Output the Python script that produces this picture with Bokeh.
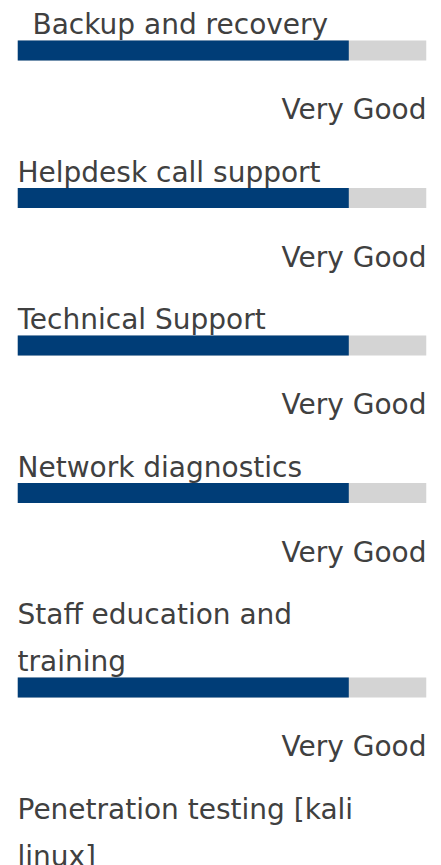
from bokeh.plotting import figure
from bokeh.models import Range1d, ColumnDataSource
from bokeh.core.properties import value
from bokeh.embed import file_html
from bokeh.resources import INLINE

# ---- data ----
skills = [
    " Backup and recovery",
    "Helpdesk call support",
    "Technical Support",
    "Network diagnostics",
    "Staff education and\ntraining",
    "Penetration testing [kali\nlinux]",
]
levels = [81, 81, 81, 81, 81, 81]
ratings = ["Very Good", "Very Good", "Very Good", "Very Good", "Very Good", "Very Good"]
max_level = 100

# ---- layout (pixel rows, y measured from top) ----
W, H = 441, 865
first_baseline = 32
line_gap = 47
bar_gap = 8
bar_h = 20
rating_gap = 77
row_gap = 62.5
indent_px = 15          # width used for a leading space in a label
base_shift = -8         # baseline correction for the text glyph

lab_x, lab_y, lab_t, lab_off = [], [], [], []
bar_y, bar_v = [], []
rat_y, rat_t = [], []
y = first_baseline
for s, lv, rt in zip(skills, levels, ratings):
    lines = s.split("\n")
    for k, ln in enumerate(lines):
        lead = len(ln) - len(ln.lstrip(" "))
        lab_x.append(0)
        lab_y.append(y + k * line_gap)
        lab_t.append(ln)
        lab_off.append(lead * indent_px)
    last = y + (len(lines) - 1) * line_gap
    top = last + bar_gap
    bar_y.append(top + bar_h / 2)
    bar_v.append(lv)
    rat_y.append(top + rating_gap)
    rat_t.append(rt)
    y = top + rating_gap + row_gap

p = figure(width=W, height=H, output_backend="svg", toolbar_location=None,
           x_range=Range1d(0, max_level), y_range=Range1d(H, 0),
           x_axis_location=None, y_axis_location=None,
           min_border_left=17, min_border_right=15,
           min_border_top=0, min_border_bottom=0)
p.grid.visible = False
p.outline_line_color = None
p.background_fill_color = "white"
p.border_fill_color = "white"

bars = ColumnDataSource(dict(y=bar_y, v=bar_v, full=[max_level] * len(bar_v)))
p.hbar(y="y", left=0, right="full", height=bar_h, source=bars,
       fill_color="#d4d4d4", line_color=None)
p.hbar(y="y", left=0, right="v", height=bar_h, source=bars,
       fill_color="#003d77", line_color=None)

font = value("DejaVu Sans")
labs = ColumnDataSource(dict(x=lab_x, y=lab_y, t=lab_t, off=lab_off))
p.text(x="x", y="y", text="t", x_offset="off", y_offset=base_shift, source=labs,
       text_font=font, text_font_size="28px",
       text_color="#404040", text_align="left", text_baseline="alphabetic")
rats = ColumnDataSource(dict(x=[max_level] * len(rat_y), y=rat_y, t=rat_t))
p.text(x="x", y="y", text="t", y_offset=base_shift, source=rats, text_font=font,
       text_font_size="28px", text_color="#404040", text_align="right",
       text_baseline="alphabetic")

open("out.html", "w").write(file_html(p, INLINE))
